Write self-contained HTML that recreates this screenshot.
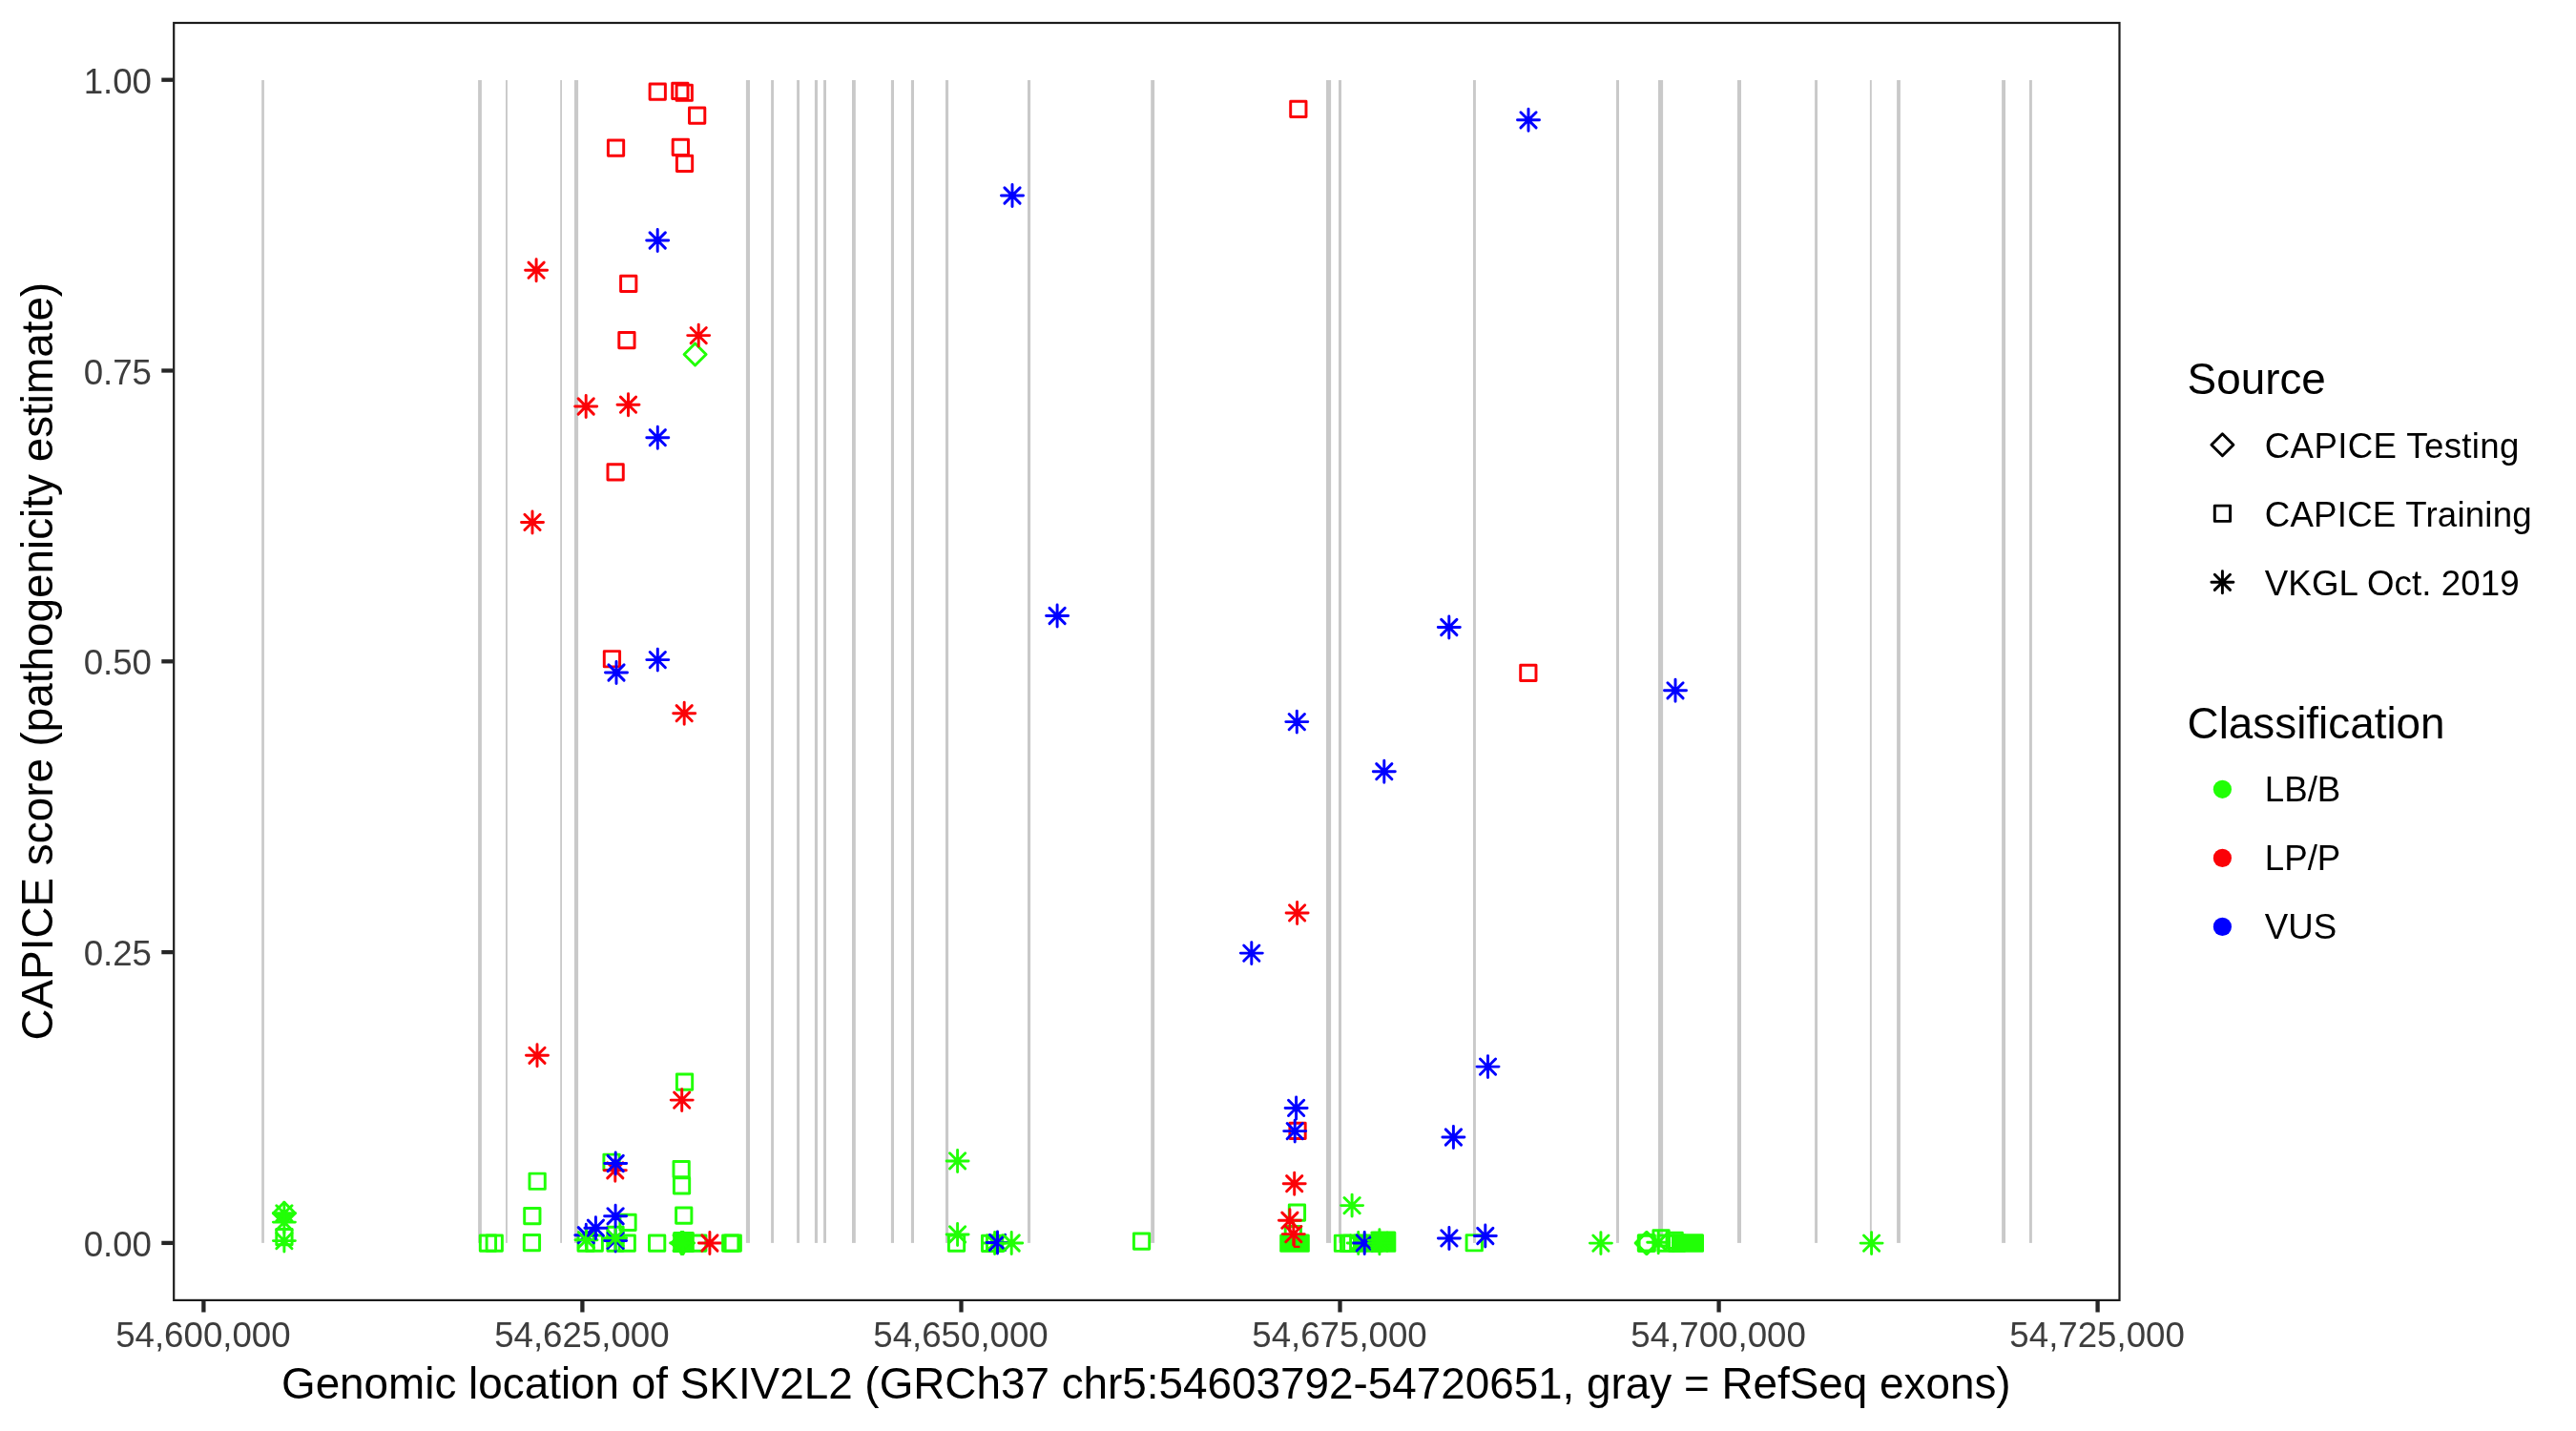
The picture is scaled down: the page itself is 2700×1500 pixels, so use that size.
<!DOCTYPE html>
<html><head><meta charset="utf-8"><title>CAPICE SKIV2L2</title>
<style>
html,body{margin:0;padding:0;background:#fff;}
body{width:2700px;height:1500px;overflow:hidden;}
svg{display:block;will-change:transform;}
text{font-family:"Liberation Sans",sans-serif;}
</style></head><body>
<svg width="2700" height="1500" viewBox="0 0 2700 1500">
<rect x="0" y="0" width="2700" height="1500" fill="#ffffff"/>
<g fill="#C9C9C9"><rect x="274.2" y="84.0" width="2.7" height="1218.9"/><rect x="501.1" y="84.0" width="3.8" height="1218.9"/><rect x="530.0" y="84.0" width="1.9" height="1218.9"/><rect x="587.2" y="84.0" width="1.8" height="1218.9"/><rect x="602.0" y="84.0" width="4.1" height="1218.9"/><rect x="781.9" y="84.0" width="4.1" height="1218.9"/><rect x="808.1" y="84.0" width="2.9" height="1218.9"/><rect x="835.1" y="84.0" width="2.9" height="1218.9"/><rect x="853.9" y="84.0" width="3.1" height="1218.9"/><rect x="863.1" y="84.0" width="2.9" height="1218.9"/><rect x="893.0" y="84.0" width="3.8" height="1218.9"/><rect x="933.9" y="84.0" width="3.1" height="1218.9"/><rect x="954.9" y="84.0" width="3.1" height="1218.9"/><rect x="991.0" y="84.0" width="3.1" height="1218.9"/><rect x="1077.0" y="84.0" width="3.1" height="1218.9"/><rect x="1206.2" y="84.0" width="3.9" height="1218.9"/><rect x="1390.0" y="84.0" width="5.1" height="1218.9"/><rect x="1403.0" y="84.0" width="3.0" height="1218.9"/><rect x="1544.0" y="84.0" width="2.9" height="1218.9"/><rect x="1694.0" y="84.0" width="3.0" height="1218.9"/><rect x="1738.0" y="84.0" width="5.1" height="1218.9"/><rect x="1820.9" y="84.0" width="4.1" height="1218.9"/><rect x="1902.1" y="84.0" width="2.9" height="1218.9"/><rect x="1959.9" y="84.0" width="1.9" height="1218.9"/><rect x="1988.1" y="84.0" width="3.8" height="1218.9"/><rect x="2098.1" y="84.0" width="3.9" height="1218.9"/><rect x="2127.0" y="84.0" width="2.9" height="1218.9"/></g>
<g fill="none" stroke-width="2.95" stroke-linecap="round" stroke-linejoin="round"><rect x="289.8" y="1288.4" width="16.28" height="16.28" stroke="#21FF06"/><path d="M286.4 1271.8L297.9 1260.3L309.4 1271.8L297.9 1283.3Z" stroke="#21FF06"/><path d="M287.4 1271.8L308.4 1271.8L297.9 1282.3Z" fill="#21FF06" stroke="none"/><path d="M286.4 1271.8H309.4M297.9 1260.3V1283.3M289.8 1263.7L306.0 1279.9M289.8 1279.9L306.0 1263.7" stroke="#21FF06"/><path d="M286.4 1281.1H309.4M297.9 1269.6V1292.6M289.8 1273.0L306.0 1289.2M289.8 1289.2L306.0 1273.0" stroke="#21FF06"/><path d="M286.4 1300.6H309.4M297.9 1289.1V1312.1M289.8 1292.5L306.0 1308.7M289.8 1308.7L306.0 1292.5" stroke="#21FF06"/><rect x="681.1" y="87.9" width="16.28" height="16.28" stroke="#FB0207"/><rect x="704.7" y="87.2" width="16.28" height="16.28" stroke="#FB0207"/><rect x="709.1" y="89.1" width="16.28" height="16.28" stroke="#FB0207"/><rect x="722.5" y="113.0" width="16.28" height="16.28" stroke="#FB0207"/><rect x="637.4" y="147.0" width="16.28" height="16.28" stroke="#FB0207"/><rect x="705.2" y="146.2" width="16.28" height="16.28" stroke="#FB0207"/><rect x="709.4" y="163.3" width="16.28" height="16.28" stroke="#FB0207"/><path d="M677.7 252.0H700.7M689.2 240.5V263.5M681.1 243.9L697.3 260.1M681.1 260.1L697.3 243.9" stroke="#0000FF"/><path d="M550.6 283.2H573.6M562.1 271.7V294.7M554.0 275.1L570.2 291.3M554.0 291.3L570.2 275.1" stroke="#FB0207"/><rect x="650.6" y="289.2" width="16.28" height="16.28" stroke="#FB0207"/><rect x="648.8" y="348.4" width="16.28" height="16.28" stroke="#FB0207"/><path d="M717.1 371.5L728.6 360.0L740.1 371.5L728.6 383.0Z" stroke="#21FF06"/><path d="M720.7 351.6H743.7M732.2 340.1V363.1M724.1 343.5L740.3 359.7M724.1 359.7L740.3 343.5" stroke="#FB0207"/><path d="M602.7 426.0H625.7M614.2 414.5V437.5M606.1 417.9L622.3 434.1M606.1 434.1L622.3 417.9" stroke="#FB0207"/><path d="M647.0 424.2H670.0M658.5 412.7V435.7M650.4 416.1L666.6 432.3M650.4 432.3L666.6 416.1" stroke="#FB0207"/><path d="M677.8 458.7H700.8M689.3 447.2V470.2M681.2 450.6L697.4 466.8M681.2 466.8L697.4 450.6" stroke="#0000FF"/><rect x="637.0" y="486.7" width="16.28" height="16.28" stroke="#FB0207"/><path d="M546.5 547.4H569.5M558.0 535.9V558.9M549.9 539.3L566.1 555.5M549.9 555.5L566.1 539.3" stroke="#FB0207"/><rect x="633.3" y="682.6" width="16.28" height="16.28" stroke="#FB0207"/><path d="M634.5 705.0H657.5M646.0 693.5V716.5M637.9 696.9L654.1 713.1M637.9 713.1L654.1 696.9" stroke="#0000FF"/><path d="M677.8 691.6H700.8M689.3 680.1V703.1M681.2 683.5L697.4 699.7M681.2 699.7L697.4 683.5" stroke="#0000FF"/><path d="M705.7 747.7H728.7M717.2 736.2V759.2M709.1 739.6L725.3 755.8M709.1 755.8L725.3 739.6" stroke="#FB0207"/><path d="M551.5 1106.3H574.5M563.0 1094.8V1117.8M554.9 1098.2L571.1 1114.4M554.9 1114.4L571.1 1098.2" stroke="#FB0207"/><rect x="709.4" y="1125.9" width="16.28" height="16.28" stroke="#21FF06"/><path d="M703.2 1153.1H726.2M714.7 1141.6V1164.6M706.6 1145.0L722.8 1161.2M706.6 1161.2L722.8 1145.0" stroke="#FB0207"/><rect x="632.9" y="1210.1" width="16.28" height="16.28" stroke="#21FF06"/><path d="M633.3 1226.8H656.3M644.8 1215.3V1238.3M636.7 1218.7L652.9 1234.9M636.7 1234.9L652.9 1218.7" stroke="#FB0207"/><path d="M633.7 1219.5H656.7M645.2 1208.0V1231.0M637.1 1211.4L653.3 1227.6M637.1 1227.6L653.3 1211.4" stroke="#0000FF"/><rect x="555.0" y="1230.1" width="16.28" height="16.28" stroke="#21FF06"/><rect x="706.0" y="1217.4" width="16.28" height="16.28" stroke="#21FF06"/><rect x="706.4" y="1234.8" width="16.28" height="16.28" stroke="#21FF06"/><rect x="549.7" y="1266.4" width="16.28" height="16.28" stroke="#21FF06"/><rect x="708.6" y="1265.9" width="16.28" height="16.28" stroke="#21FF06"/><rect x="503.3" y="1294.9" width="16.28" height="16.28" stroke="#21FF06"/><rect x="510.1" y="1294.9" width="16.28" height="16.28" stroke="#21FF06"/><rect x="549.3" y="1294.5" width="16.28" height="16.28" stroke="#21FF06"/><rect x="606.0" y="1295.0" width="16.28" height="16.28" stroke="#21FF06"/><rect x="615.1" y="1295.0" width="16.28" height="16.28" stroke="#21FF06"/><rect x="636.9" y="1295.0" width="16.28" height="16.28" stroke="#21FF06"/><rect x="649.1" y="1295.0" width="16.28" height="16.28" stroke="#21FF06"/><rect x="636.9" y="1286.2" width="16.28" height="16.28" stroke="#21FF06"/><rect x="649.9" y="1273.3" width="16.28" height="16.28" stroke="#21FF06"/><path d="M633.6 1300.4H656.6M645.1 1288.9V1311.9M637.0 1292.3L653.2 1308.5M637.0 1308.5L653.2 1292.3" stroke="#0000FF"/><path d="M633.6 1297.8H656.6M645.1 1286.3V1309.3M637.0 1289.7L653.2 1305.9M637.0 1305.9L653.2 1289.7" stroke="#21FF06"/><path d="M602.8 1294.7H625.8M614.3 1283.2V1306.2M606.2 1286.6L622.4 1302.8M606.2 1302.8L622.4 1286.6" stroke="#0000FF"/><path d="M603.0 1299.7H626.0M614.5 1288.2V1311.2M606.4 1291.6L622.6 1307.8M606.4 1307.8L622.6 1291.6" stroke="#21FF06"/><path d="M612.9 1287.2H635.9M624.4 1275.7V1298.7M616.3 1279.1L632.5 1295.3M616.3 1295.3L632.5 1279.1" stroke="#0000FF"/><path d="M633.6 1274.8H656.6M645.1 1263.3V1286.3M637.0 1266.7L653.2 1282.9M637.0 1282.9L653.2 1266.7" stroke="#0000FF"/><rect x="680.5" y="1294.9" width="16.28" height="16.28" stroke="#21FF06"/><rect x="723.6" y="1294.9" width="16.28" height="16.28" stroke="#21FF06"/><rect x="705.2" y="1291.0" width="22.6" height="22.0" rx="1.5" fill="#21FF06" stroke="none"/><path d="M702.6 1303.0H725.6M714.1 1291.5V1314.5M706.0 1294.9L722.2 1311.1M706.0 1311.1L722.2 1294.9" stroke="#21FF06"/><path d="M703.6 1303.0H726.6M715.1 1291.5V1314.5M707.0 1294.9L723.2 1311.1M707.0 1311.1L723.2 1294.9" stroke="#21FF06"/><path d="M704.6 1303.0H727.6M716.1 1291.5V1314.5M708.0 1294.9L724.2 1311.1M708.0 1311.1L724.2 1294.9" stroke="#21FF06"/><path d="M703.7 1303.0L715.2 1291.5L726.7 1303.0L715.2 1314.5Z" stroke="#21FF06"/><path d="M732.4 1303.0H755.4M743.9 1291.5V1314.5M735.8 1294.9L752.0 1311.1M735.8 1311.1L752.0 1294.9" stroke="#FB0207"/><rect x="757.6" y="1294.9" width="16.28" height="16.28" stroke="#21FF06"/><rect x="760.1" y="1294.9" width="16.28" height="16.28" stroke="#21FF06"/><path d="M1049.5 205.0H1072.5M1061.0 193.5V216.5M1052.9 196.9L1069.1 213.1M1052.9 213.1L1069.1 196.9" stroke="#0000FF"/><path d="M1096.6 645.5H1119.6M1108.1 634.0V657.0M1100.0 637.4L1116.2 653.6M1100.0 653.6L1116.2 637.4" stroke="#0000FF"/><path d="M992.1 1216.9H1015.1M1003.6 1205.4V1228.4M995.5 1208.8L1011.7 1225.0M995.5 1225.0L1011.7 1208.8" stroke="#21FF06"/><rect x="994.4" y="1294.9" width="16.28" height="16.28" stroke="#21FF06"/><path d="M992.1 1293.9H1015.1M1003.6 1282.4V1305.4M995.5 1285.8L1011.7 1302.0M995.5 1302.0L1011.7 1285.8" stroke="#21FF06"/><rect x="1029.5" y="1295.2" width="16.28" height="16.28" stroke="#21FF06"/><rect x="1034.5" y="1295.2" width="16.28" height="16.28" stroke="#21FF06"/><path d="M1031.1 1303.0H1054.1M1042.6 1291.5V1314.5M1034.5 1294.9L1050.7 1311.1M1034.5 1311.1L1050.7 1294.9" stroke="#21FF06"/><path d="M1034.0 1302.4H1057.0M1045.5 1290.9V1313.9M1037.4 1294.3L1053.6 1310.5M1037.4 1310.5L1053.6 1294.3" stroke="#0000FF"/><path d="M1048.7 1303.0H1071.7M1060.2 1291.5V1314.5M1052.1 1294.9L1068.3 1311.1M1052.1 1311.1L1068.3 1294.9" stroke="#21FF06"/><rect x="1188.4" y="1292.9" width="16.28" height="16.28" stroke="#21FF06"/><rect x="1352.7" y="106.3" width="16.28" height="16.28" stroke="#FB0207"/><path d="M1590.5 125.8H1613.5M1602.0 114.3V137.3M1593.9 117.7L1610.1 133.9M1593.9 133.9L1610.1 117.7" stroke="#0000FF"/><path d="M1347.8 756.6H1370.8M1359.3 745.1V768.1M1351.2 748.5L1367.4 764.7M1351.2 764.7L1367.4 748.5" stroke="#0000FF"/><path d="M1507.3 657.5H1530.3M1518.8 646.0V669.0M1510.7 649.4L1526.9 665.6M1510.7 665.6L1526.9 649.4" stroke="#0000FF"/><rect x="1593.7" y="697.3" width="16.28" height="16.28" stroke="#FB0207"/><path d="M1744.5 723.8H1767.5M1756.0 712.3V735.3M1747.9 715.7L1764.1 731.9M1747.9 731.9L1764.1 715.7" stroke="#0000FF"/><path d="M1439.3 808.7H1462.3M1450.8 797.2V820.2M1442.7 800.6L1458.9 816.8M1442.7 816.8L1458.9 800.6" stroke="#0000FF"/><path d="M1348.1 956.9H1371.1M1359.6 945.4V968.4M1351.5 948.8L1367.7 965.0M1351.5 965.0L1367.7 948.8" stroke="#FB0207"/><path d="M1300.3 999.1H1323.3M1311.8 987.6V1010.6M1303.7 991.0L1319.9 1007.2M1303.7 1007.2L1319.9 991.0" stroke="#0000FF"/><path d="M1548.0 1118.1H1571.0M1559.5 1106.6V1129.6M1551.4 1110.0L1567.6 1126.2M1551.4 1126.2L1567.6 1110.0" stroke="#0000FF"/><path d="M1347.1 1161.4H1370.1M1358.6 1149.9V1172.9M1350.5 1153.3L1366.7 1169.5M1350.5 1169.5L1366.7 1153.3" stroke="#0000FF"/><rect x="1351.9" y="1177.2" width="16.28" height="16.28" stroke="#FB0207"/><path d="M1345.7 1185.6H1368.7M1357.2 1174.1V1197.1M1349.1 1177.5L1365.3 1193.7M1349.1 1193.7L1365.3 1177.5" stroke="#0000FF"/><path d="M1511.9 1192.0H1534.9M1523.4 1180.5V1203.5M1515.3 1183.9L1531.5 1200.1M1515.3 1200.1L1531.5 1183.9" stroke="#0000FF"/><path d="M1345.2 1240.7H1368.2M1356.7 1229.2V1252.2M1348.6 1232.6L1364.8 1248.8M1348.6 1248.8L1364.8 1232.6" stroke="#FB0207"/><path d="M1405.6 1263.6H1428.6M1417.1 1252.1V1275.1M1409.0 1255.5L1425.2 1271.7M1409.0 1271.7L1425.2 1255.5" stroke="#21FF06"/><rect x="1351.3" y="1263.0" width="16.28" height="16.28" stroke="#21FF06"/><rect x="1347.2" y="1285.5" width="16.28" height="16.28" stroke="#21FF06"/><rect x="1341.2" y="1293.4" width="31.6" height="19.3" rx="1.5" fill="#21FF06" stroke="none"/><path d="M1356.6 1294.5V1306.8H1362.5" stroke="#FB0207" stroke-width="2.2" stroke-linecap="butt"/><path d="M1340.4 1279.2H1363.4M1351.9 1267.7V1290.7M1343.8 1271.1L1360.0 1287.3M1343.8 1287.3L1360.0 1271.1" stroke="#FB0207"/><path d="M1344.3 1293.6H1367.3M1355.8 1282.1V1305.1M1347.7 1285.5L1363.9 1301.7M1347.7 1301.7L1363.9 1285.5" stroke="#FB0207"/><rect x="1399.3" y="1295.1" width="16.28" height="16.28" stroke="#21FF06"/><rect x="1405.5" y="1295.1" width="16.28" height="16.28" stroke="#21FF06"/><rect x="1408.6" y="1295.1" width="16.28" height="16.28" stroke="#21FF06"/><rect x="1418.0" y="1293.5" width="32.0" height="19.2" rx="1.5" fill="#21FF06" stroke="none"/><path d="M1412.2 1303.0H1435.2M1423.7 1291.5V1314.5M1415.6 1294.9L1431.8 1311.1M1415.6 1311.1L1431.8 1294.9" stroke="#21FF06"/><path d="M1418.7 1302.9H1441.7M1430.2 1291.4V1314.4M1422.1 1294.8L1438.3 1311.0M1422.1 1311.0L1438.3 1294.8" stroke="#0000FF"/><rect x="1437.4" y="1290.5" width="25.9" height="22.2" rx="1.5" fill="#21FF06" stroke="none"/><path d="M1434.4 1300.1H1457.4M1445.9 1288.6V1311.6M1437.8 1292.0L1454.0 1308.2M1437.8 1308.2L1454.0 1292.0" stroke="#21FF06"/><path d="M1434.4 1303.2H1457.4M1445.9 1291.7V1314.7M1437.8 1295.1L1454.0 1311.3M1437.8 1311.3L1454.0 1295.1" stroke="#21FF06"/><path d="M1507.4 1297.9H1530.4M1518.9 1286.4V1309.4M1510.8 1289.8L1527.0 1306.0M1510.8 1306.0L1527.0 1289.8" stroke="#0000FF"/><rect x="1537.1" y="1294.6" width="16.28" height="16.28" stroke="#21FF06"/><path d="M1545.3 1295.5H1568.3M1556.8 1284.0V1307.0M1548.7 1287.4L1564.9 1303.6M1548.7 1303.6L1564.9 1287.4" stroke="#0000FF"/><path d="M1666.4 1303.1H1689.4M1677.9 1291.6V1314.6M1669.8 1295.0L1686.0 1311.2M1669.8 1311.2L1686.0 1295.0" stroke="#21FF06"/><rect x="1717.3" y="1294.9" width="16.28" height="16.28" stroke="#21FF06"/><rect x="1718.1" y="1294.9" width="16.28" height="16.28" stroke="#21FF06"/><path d="M1714.1 1303.0L1725.6 1291.5L1737.1 1303.0L1725.6 1314.5Z" stroke="#21FF06"/><path d="M1714.7 1303.0L1726.2 1291.5L1737.7 1303.0L1726.2 1314.5Z" stroke="#21FF06"/><path d="M1726.7 1302.3H1749.7M1738.2 1290.8V1313.8M1730.1 1294.2L1746.3 1310.4M1730.1 1310.4L1746.3 1294.2" stroke="#21FF06"/><rect x="1732.9" y="1289.8" width="16.28" height="16.28" stroke="#21FF06"/><rect x="1747.0" y="1292.1" width="16.28" height="16.28" stroke="#21FF06"/><rect x="1749.5" y="1294.9" width="16.28" height="16.28" stroke="#21FF06"/><rect x="1738.0" y="1294.9" width="16.28" height="16.28" stroke="#21FF06"/><rect x="1752.0" y="1293.3" width="34.0" height="19.5" rx="1.5" fill="#21FF06" stroke="none"/><path d="M1950.1 1303.1H1973.1M1961.6 1291.6V1314.6M1953.5 1295.0L1969.7 1311.2M1953.5 1311.2L1969.7 1295.0" stroke="#21FF06"/></g>
<rect x="182.2" y="24.0" width="2039.3" height="1338.9" fill="none" stroke="#1C1C1C" stroke-width="2.2"/>
<g stroke="#262626" stroke-width="4.3" fill="none"><path d="M169.3 83.7H181.3"/><path d="M169.3 388.5H181.3"/><path d="M169.3 693.3H181.3"/><path d="M169.3 998.1H181.3"/><path d="M169.3 1302.9H181.3"/><path d="M213.4 1363.9V1375.5"/><path d="M610.4 1363.9V1375.5"/><path d="M1007.5 1363.9V1375.5"/><path d="M1404.5 1363.9V1375.5"/><path d="M1801.6 1363.9V1375.5"/><path d="M2198.6 1363.9V1375.5"/></g>
<g fill="#3D3D3D" font-size="36.67px"><text x="159.0" y="97.8" text-anchor="end">1.00</text><text x="159.0" y="402.6" text-anchor="end">0.75</text><text x="159.0" y="707.4" text-anchor="end">0.50</text><text x="159.0" y="1012.2" text-anchor="end">0.25</text><text x="159.0" y="1317.0" text-anchor="end">0.00</text><text x="212.9" y="1412.4" text-anchor="middle">54,600,000</text><text x="609.9" y="1412.4" text-anchor="middle">54,625,000</text><text x="1007.0" y="1412.4" text-anchor="middle">54,650,000</text><text x="1404.0" y="1412.4" text-anchor="middle">54,675,000</text><text x="1801.1" y="1412.4" text-anchor="middle">54,700,000</text><text x="2198.1" y="1412.4" text-anchor="middle">54,725,000</text></g>
<text x="1201.3" y="1466.3" font-size="45.83px" text-anchor="middle" fill="#000">Genomic location of SKIV2L2 (GRCh37 chr5:54603792-54720651, gray = RefSeq exons)</text>
<text transform="translate(55.0,693.2) rotate(-90)" font-size="45.83px" text-anchor="middle" fill="#000">CAPICE score (pathogenicity estimate)</text>
<g fill="#000"><text x="2292.6" y="413.2" font-size="45.83px">Source</text><text x="2292.6" y="773.6" font-size="45.83px">Classification</text><g font-size="36.67px"><text x="2373.8" y="479.6" letter-spacing="0.35">CAPICE Testing</text><text x="2373.8" y="551.6" letter-spacing="0.20">CAPICE Training</text><text x="2373.8" y="623.6" letter-spacing="0.10">VKGL Oct. 2019</text><text x="2373.8" y="840.4" letter-spacing="0.00">LB/B</text><text x="2373.8" y="912.4" letter-spacing="0.00">LP/P</text><text x="2373.8" y="984.4" letter-spacing="0.00">VUS</text></g></g>
<g fill="none" stroke="#000" stroke-width="2.95" stroke-linecap="round" stroke-linejoin="round"><path d="M2317.9 466.2L2329.4 454.7L2340.9 466.2L2329.4 477.7Z"/><rect x="2321.3" y="530.1" width="16.28" height="16.28"/><path d="M2317.9 610.3H2340.9M2329.4 598.8V621.8M2321.3 602.2L2337.5 618.4M2321.3 618.4L2337.5 602.2"/></g>
<circle cx="2329.4" cy="827.3" r="9.6" fill="#21FF06"/><circle cx="2329.4" cy="899.4" r="9.6" fill="#FB0207"/><circle cx="2329.4" cy="971.4" r="9.6" fill="#0000FF"/>
</svg>
</body></html>
